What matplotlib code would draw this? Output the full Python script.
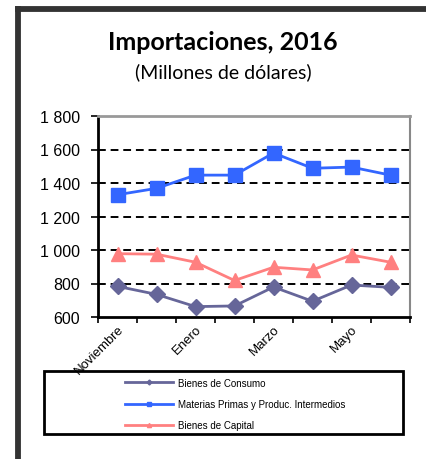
import matplotlib.pyplot as plt
from matplotlib.lines import Line2D
from matplotlib.patches import Rectangle
from matplotlib.ticker import FuncFormatter

meses = ["Noviembre", "Diciembre", "Enero", "Febrero", "Marzo", "Abril", "Mayo", "Junio"]
consumo = [783, 735, 662, 666, 779, 694, 791, 777]
materias = [1330, 1368, 1447, 1447, 1579, 1488, 1495, 1447]
capital = [978, 975, 927, 818, 897, 881, 970, 927]
series = ["Bienes de Consumo", "Materias Primas y Produc. Intermedios", "Bienes de Capital"]

W, H = 426, 460
fig = plt.figure(figsize=(W / 100, H / 100), dpi=100)

# Rahmen aussen (nur links und oben sichtbar)
fig.add_artist(Line2D([17.5 / W, 17.5 / W], [0, 1 - 10 / H], color="#333333", lw=4.2,
                      solid_capstyle="projecting"))
fig.add_artist(Line2D([17.5 / W, 1], [1 - 10 / H, 1 - 10 / H], color="#333333", lw=4.2,
                      solid_capstyle="projecting"))

fig.text(223 / W, 1 - 43 / H, "Importaciones, 2016", ha="center", va="center",
         fontsize=18, fontweight="bold", family="Lato")
fig.text(223 / W, 1 - 72 / H, "(Millones de dólares)", ha="center", va="center",
         fontsize=14, family="Lato")

ax = fig.add_axes([98 / W, 1 - 318 / H, (410 - 98) / W, (318 - 117) / H])
x = list(range(len(meses)))
ax.plot(x, consumo, color="#666699", marker="D", markersize=8, lw=2, zorder=3)
ax.plot(x, materias, color="#3366FF", marker="s", markersize=10, lw=2, zorder=3)
ax.plot(x, capital, color="#FF8080", marker="^", markersize=10, lw=2, zorder=3)

ax.set_xlim(-0.5, len(meses) - 0.5)
ax.set_ylim(600, 1800)
ax.set_yticks(range(600, 1801, 200))
ax.yaxis.set_major_formatter(FuncFormatter(lambda v, p: f"{int(v):,}".replace(",", " ")))
for v in range(800, 1800, 200):
    ax.axhline(v, color="black", ls=(0, (4, 2.5)), lw=1.4, zorder=1)

ax.set_xticks([i - 0.5 for i in range(len(meses) + 1)])
ax.set_xticklabels([])
ax.set_xticks(x[::2], minor=True)
ax.set_xticklabels(meses[::2], minor=True, rotation=45, ha="right", va="top",
                   rotation_mode="anchor", fontsize=9.5, family="Liberation Sans")
ax.tick_params(axis="x", which="minor", length=0, pad=4)
ax.tick_params(axis="x", which="major", length=4, width=1.2, direction="out")
ax.tick_params(axis="y", length=5, width=1.2, labelsize=11.5, pad=8)
for lab in ax.get_yticklabels():
    lab.set_family("Liberation Sans")

ax.spines["left"].set_linewidth(2)
ax.spines["bottom"].set_linewidth(2)
ax.spines["right"].set_color("#888888")
ax.spines["right"].set_linewidth(1.5)
ax.spines["top"].set_color("#999999")
ax.spines["top"].set_linewidth(2)
ax.spines["top"].set_linestyle((0, (1, 1)))

# Legendenkasten
fig.add_artist(Rectangle((44 / W, 1 - 435 / H), (403 - 44) / W, (435 - 372) / H,
                         fill=False, edgecolor="black", lw=2, transform=fig.transFigure))
handles = [
    Line2D([], [], color="#666699", marker="D", markersize=2.5, lw=2),
    Line2D([], [], color="#3366FF", marker="s", markersize=3, lw=2),
    Line2D([], [], color="#FF8080", marker="^", markersize=3, lw=2),
]
fig.legend(handles, series, loc="upper left", bbox_to_anchor=(120 / W, 1 - 374 / H),
           frameon=False, handlelength=5, handletextpad=0.5,
           labelspacing=1.15, borderpad=0, prop={"family": "Liberation Sans", "size": 7})

fig.savefig("out.png", dpi=100)
